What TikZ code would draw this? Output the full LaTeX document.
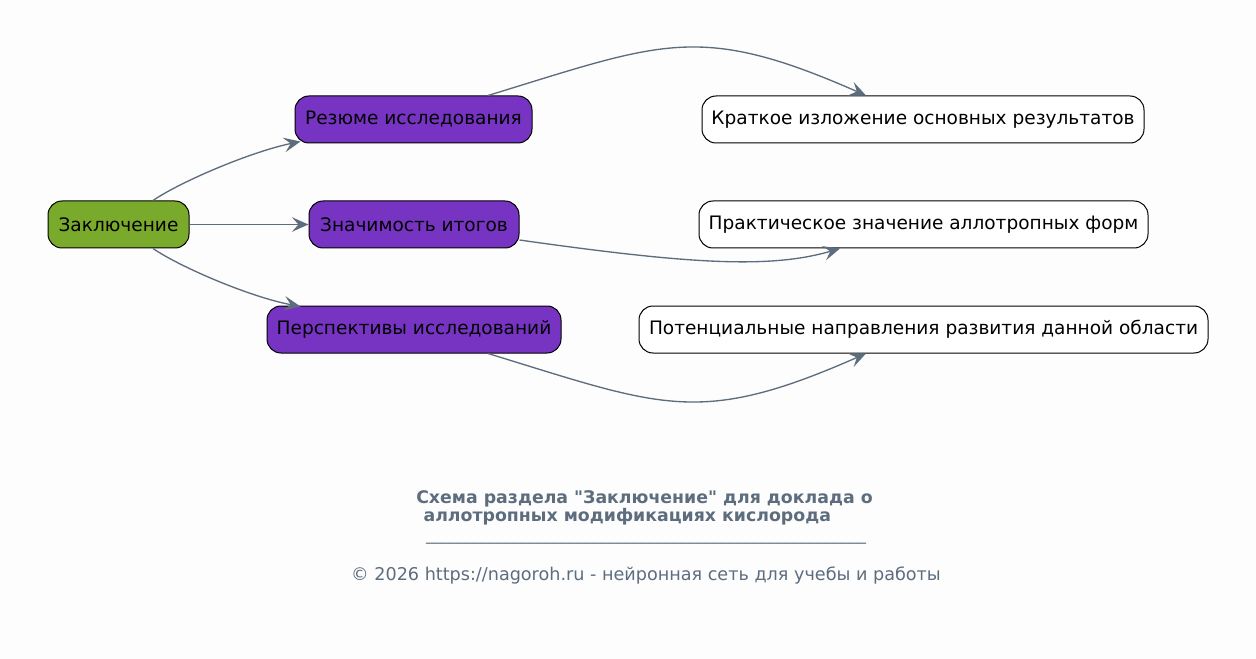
\documentclass[tikz,border=0pt]{standalone}
\usepackage{fontspec}
\setmainfont{DejaVu Sans}
\newfontfamily\rawfont{DejaVu Sans}
\usetikzlibrary{arrows.meta}
\definecolor{bgc}{HTML}{FDFDFD}
\definecolor{grn}{HTML}{7AAA2B}
\definecolor{prp}{HTML}{7734C3}
\definecolor{edg}{HTML}{5D6D7E}
\tikzset{
  box/.style={draw=black, line width=0.75pt, rounded corners=10.5pt, minimum height=35.25pt, inner sep=2pt, font=\fontsize{13.9pt}{17pt}\selectfont, text=black},
  gbox/.style={box, fill=grn},
  pbox/.style={box, fill=prp},
  wbox/.style={box, fill=white},
  conn/.style={draw=edg, line width=1pt, -{Stealth[length=12.5pt,width=11pt,inset=5pt]}},
  small/.style={font=\fontsize{12pt}{13.5pt}\selectfont, text=edg}
}
\begin{document}
\begin{tikzpicture}[x=0.75pt,y=-0.75pt]
\fill[bgc] (0,0) rectangle (1256,659);
\useasboundingbox (0,0) rectangle (1256,659);
\node[gbox, minimum width=105.75pt] (z) at (118.5,224.5) {Заключение};
\node[pbox, minimum width=177.75pt] (r) at (413.5,119.5) {Резюме исследования};
\node[pbox, minimum width=157.5pt] (s) at (414,224.5) {Значимость итогов};
\node[pbox, minimum width=220.5pt] (p) at (414,329.5) {Перспективы исследований};
\node[wbox, minimum width=331.5pt] (k) at (923,119.5) {Краткое изложение основных результатов};
\node[wbox, minimum width=336.75pt] (pr) at (923.5,224.5) {Практическое значение аллотропных форм};
\node[wbox, minimum width=426.75pt] (pt) at (923.5,329.5) {Потенциальные направления развития данной области};

\draw[conn] ([shift={(34.5,0)}]z.north) .. controls (180,182) and (250,152) .. ([shift={(6,-2)}]r.south west);
\draw[conn] (z.east) -- (s.west);
\draw[conn] ([shift={(34.5,0)}]z.south) .. controls (180,267) and (250,297) .. ([shift={(34,1)}]p.north west);
\draw[conn] ([shift={(74.5,0)}]r.north) .. controls (663,42) and (699,22) .. ([shift={(-57,0)}]k.north);
\draw[conn] ([shift={(0,15.5)}]s.east) .. controls (689,264) and (770,269) .. ([shift={(-83.5,0)}]pr.south);
\draw[conn] ([shift={(74,0)}]p.south) .. controls (663,407) and (699,427) .. ([shift={(-57.5,0)}]pt.south);

\node[small, font=\rawfont\fontsize{13pt}{13.5pt}\selectfont\bfseries, align=left, anchor=north west, inner sep=0pt] (title) at (416,490) {Схема раздела "Заключение" для доклада о\\\hspace{5.5pt}аллотропных модификациях кислорода};
\node[small, anchor=base, inner sep=0pt] (sep) at (646,540) {\_\_\_\_\_\_\_\_\_\_\_\_\_\_\_\_\_\_\_\_\_\_\_\_\_\_\_\_\_\_\_\_\_\_\_\_\_\_\_\_\_\_\_\_\_\_\_\_\_\_\_\_\_\_\_};
\node[small, font=\fontsize{13.2pt}{16pt}\selectfont, anchor=base, inner sep=0pt] (foot) at (646,580) {© 2026 https://nagoroh.ru - нейронная сеть для учебы и работы};
\end{tikzpicture}
\end{document}
